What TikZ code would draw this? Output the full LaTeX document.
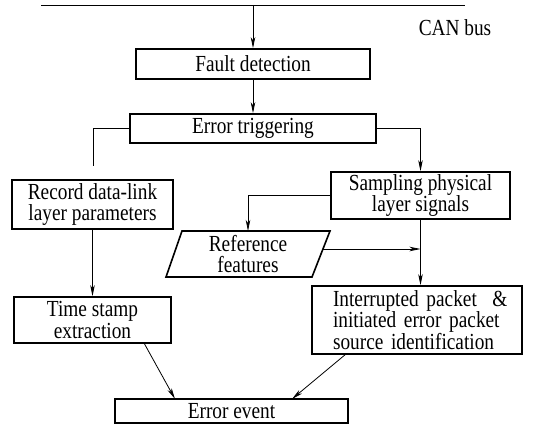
\documentclass[tikz,border=0pt]{standalone}
\usepackage{fontspec}
\setmainfont{Liberation Serif}[FakeStretch=0.84]
\usetikzlibrary{arrows.meta}
\begin{document}
\begin{tikzpicture}[x=1pt,y=-1pt,
  txt/.style={font=\fontsize{23}{21.5}\selectfont, inner sep=0pt},
  box/.style={txt, draw, line width=1.6pt, align=center},
  conn/.style={line width=0.8pt},
  arr/.style={conn, -{Stealth[length=11pt,width=4.5pt,inset=3pt]}}]
\useasboundingbox (0,0) rectangle (544,428);
% CAN bus
\coordinate (busL) at (41,5);
\coordinate (busR) at (465,5);
\coordinate (busTap) at (253,5);
\draw[conn] (busL) -- (busR);
\node[txt] (can) at (455,28) {CAN bus};
% boxes
\node[box, minimum width=234pt, minimum height=30pt] (fault) at (253,64) {Fault detection};
\node[box, minimum width=246pt, minimum height=29pt] (trig) at (253,128.5) {Error triggering};
\node[box, minimum width=161pt, minimum height=49pt] (rec) at (92.5,204.5) {Record data-link\\layer parameters};
\node[box, minimum width=179pt, minimum height=47pt] (samp) at (420.5,195.5) {Sampling physical\\layer signals};
\node[box, minimum width=157pt, minimum height=46pt] (ts) at (92.5,320) {Time stamp\\extraction};
\node[box, minimum width=210pt, minimum height=68pt, align=left, text width=184pt] (intr) at (417,320) {\hspace*{8pt}Interrupted packet~~\&\\\hspace*{8pt}initiated error packet\\\hspace*{8pt}source identification};
\node[box, minimum width=233pt, minimum height=24pt] (ev) at (231.5,411) {Error event};
% reference features parallelogram
\draw[line width=1.6pt] (166,277) -- (182,231) -- (330,231) -- (312,277) -- cycle;
\node[txt, align=center] (ref) at (248,254) {Reference\\features};
\coordinate (refTop) at (248,231);
\coordinate (refRight) at (323,249);
% connectors
\draw[arr] (busTap) -- (fault.north);
\draw[arr] (fault.south) -- (trig.north);
\coordinate (leftEnd) at (93,166);
\draw[conn] (trig.west) -| (leftEnd);
\draw[arr] (trig.east) -| (samp.north);
\draw[arr] (samp.west) -| (refTop);
\draw[arr] (refRight) -- (refRight -| samp.south);
\draw[arr] (samp.south) -- (samp.south |- intr.north);
\draw[arr] (rec.south) -- (ts.north);
\draw[arr] (144,343) -- (175,399);
\draw[arr] (346,354) -- (292,399);
\end{tikzpicture}
\end{document}
